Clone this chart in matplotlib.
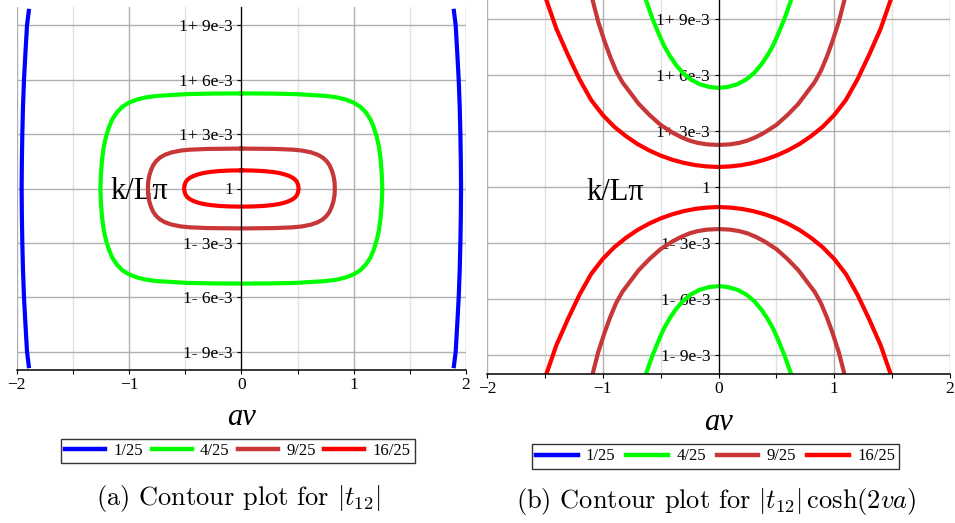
import matplotlib
matplotlib.use('Agg')
import matplotlib.pyplot as plt
from matplotlib.lines import Line2D
import numpy as np

plt.rcParams['font.family'] = ['Liberation Serif', 'DejaVu Serif']
plt.rcParams['mathtext.fontset'] = 'cm'
plt.rcParams['axes.unicode_minus'] = True

# ---------------- data ----------------
levels = ['1/25', '4/25', '9/25', '16/25']
colors = ['#0000FF', '#00FF00', '#C83737', '#FF0000']

xticks = [-2, -1, 0, 1, 2]
xtick_labels = ['\u22122', '\u22121', '0', '1', '2']
xminor = [-1.5, -0.5, 0.5, 1.5]
ytick_offsets = [-9, -6, -3, 0, 3, 6, 9]          # in units of 1e-3
ytick_labels = ['1- 9e-3', '1- 6e-3', '1- 3e-3', '1', '1+ 3e-3', '1+ 6e-3', '1+ 9e-3']

# Panel (a): one quadrant of each closed contour (x >= 0, offset >= 0), offsets in 1e-3
a_red_x = [0.0, 0.10, 0.20, 0.28, 0.34, 0.39, 0.43, 0.46, 0.48, 0.495, 0.505, 0.51]
a_red_dy = [1.0, 0.99, 0.96, 0.91, 0.85, 0.77, 0.68, 0.58, 0.48, 0.36, 0.20, 0.0]
a_brown_x = [0.0, 0.30, 0.457, 0.54, 0.62, 0.68, 0.725, 0.76, 0.785, 0.805, 0.82, 0.83, 0.832]
a_brown_dy = [2.2, 2.18, 2.14, 2.09, 1.99, 1.86, 1.70, 1.50, 1.28, 1.0, 0.70, 0.35, 0.0]
a_green_x = [0.0, 0.25, 0.486, 0.753, 0.85, 0.93, 1.0, 1.06, 1.11, 1.15, 1.18, 1.205,
             1.225, 1.24, 1.25, 1.255]
a_green_dy = [5.24, 5.23, 5.2, 5.1, 5.02, 4.9, 4.73, 4.5, 4.18, 3.8, 3.35, 2.85,
              2.3, 1.6, 0.8, 0.0]
# blue contour: right branch, x as function of offset
a_blue_dy = [-9.9, -9.0, -7.5, -6.0, -4.5, -3.0, -1.5, 0.0, 1.5, 3.0, 4.5, 6.0, 7.5, 9.0, 9.9]
a_blue_x = [1.890, 1.908, 1.922, 1.935, 1.944, 1.950, 1.954, 1.956, 1.954, 1.950, 1.944,
            1.935, 1.922, 1.908, 1.890]

# Panel (b): half branches (x >= 0) of each contour, offsets in 1e-3 (mirrored above/below 1)
b_red_x = [0.0, 0.1, 0.2, 0.3, 0.4, 0.5, 0.6, 0.7, 0.8, 0.9, 1.0, 1.1, 1.2, 1.3, 1.4, 1.49]
b_red_dy = [1.07, 1.10, 1.17, 1.29, 1.46, 1.68, 1.96, 2.30, 2.72, 3.22, 3.85, 4.65,
            5.75, 7.05, 8.45, 10.05]
b_brown_x = [0.0, 0.1, 0.18, 0.25, 0.32, 0.395, 0.5, 0.596, 0.69, 0.769, 0.83, 0.884,
             0.935, 0.985, 1.04, 1.09]
b_brown_dy = [2.25, 2.28, 2.36, 2.48, 2.66, 2.90, 3.32, 3.85, 4.45, 5.1, 5.6, 6.2,
              6.95, 7.8, 8.85, 10.05]
b_green_x = [0.0, 0.08, 0.164, 0.24, 0.308, 0.37, 0.424, 0.47, 0.51, 0.57, 0.63]
b_green_dy = [5.3, 5.35, 5.5, 5.75, 6.1, 6.55, 7.05, 7.55, 8.1, 9.0, 10.05]


def closed(qx, qdy):
    qx = np.asarray(qx); qdy = np.asarray(qdy)
    x = np.concatenate([qx, qx[::-1], -qx, -qx[::-1]])
    dy = np.concatenate([qdy, -qdy[::-1], -qdy, qdy[::-1]])
    return x, 1 + dy * 1e-3


def branch(hx, hdy):
    hx = np.asarray(hx); hdy = np.asarray(hdy)
    x = np.concatenate([-hx[::-1], hx[1:]])
    dy = np.concatenate([hdy[::-1], hdy[1:]])
    return x, dy


W, H = 955, 523
fig = plt.figure(figsize=(W / 100, H / 100), dpi=100)

axA = fig.add_axes([16.7 / W, 1 - 370 / H, 449.3 / W, 363 / H])
axB = fig.add_axes([487 / W, 1 - 374 / H, 463 / W, 374 / H])


def setup(ax):
    ax.set_xlim(-2, 2)
    ax.set_ylim(0.99, 1.01)
    ax.spines['top'].set_visible(False)
    ax.spines['right'].set_visible(False)
    ax.spines['left'].set_position(('data', 0))
    ax.spines['left'].set_linewidth(0.9)
    ax.spines['bottom'].set_linewidth(1.1)
    ax.set_xticks(xticks, xtick_labels)
    ax.set_xticks(xminor, minor=True)
    ax.set_yticks([1 + v * 1e-3 for v in ytick_offsets], ytick_labels)
    ax.tick_params(axis='x', which='both', direction='out', length=3, width=0.8,
                   labelsize=12.5, pad=2)
    ax.tick_params(axis='y', direction='out', length=3, width=0.8, labelsize=12.5, pad=3)
    ax.grid(True, which='major', color='#B0B0B0', lw=1.0)
    ax.grid(True, which='minor', axis='x', color='#E2E2E2', lw=1.0)
    ax.set_axisbelow(True)
    ax.set_facecolor('white')


setup(axA)
setup(axB)

lw = 3.0
# panel (a)
bx = np.asarray(a_blue_x); by = 1 + np.asarray(a_blue_dy) * 1e-3
axA.plot(bx, by, color=colors[0], lw=lw, solid_capstyle='butt', solid_joinstyle='round')
axA.plot(-bx, by, color=colors[0], lw=lw, solid_capstyle='butt', solid_joinstyle='round')
for qx, qdy, c in [(a_green_x, a_green_dy, colors[1]),
                   (a_brown_x, a_brown_dy, colors[2]),
                   (a_red_x, a_red_dy, colors[3])]:
    x, y = closed(qx, qdy)
    axA.plot(x, y, color=c, lw=lw, solid_joinstyle='round')

# panel (b)
for hx, hdy, c in [(b_green_x, b_green_dy, colors[1]),
                   (b_brown_x, b_brown_dy, colors[2]),
                   (b_red_x, b_red_dy, colors[3])]:
    x, dy = branch(hx, hdy)
    axB.plot(x, 1 + dy * 1e-3, color=c, lw=lw, solid_capstyle='butt', solid_joinstyle='round')
    axB.plot(x, 1 - dy * 1e-3, color=c, lw=lw, solid_capstyle='butt', solid_joinstyle='round')

# axis labels
for ax, lx, ly, xb in [(axA, 0.337, 0.471, -0.1515), (axB, 0.339, 0.465, -0.1497)]:
    ax.set_ylabel('k/L\u03c0', rotation=0, fontsize=22, ha='right', va='baseline')
    ax.yaxis.set_label_coords(lx, ly)
    ax.set_xlabel('av', fontsize=22, style='italic', va='baseline')
    ax.xaxis.set_label_coords(0.5, xb)

# legends
handles = [Line2D([], [], color=c, lw=3.2) for c in colors]
for cx, cy, cs, hl in [(238 / W, 1 - 451 / H, 0.5, 2.4), (715.5 / W, 1 - 456.5 / H, 0.65, 2.5)]:
    leg = fig.legend(handles, levels, loc='center', bbox_to_anchor=(cx, cy), ncol=4,
                     fontsize=12, frameon=True, fancybox=False, edgecolor='black',
                     handlelength=hl, handletextpad=0.5, columnspacing=cs,
                     borderpad=0.25, borderaxespad=0)
    leg.get_frame().set_linewidth(1.0)

# captions
fig.text(238 / W, 1 - 505 / H, r'(a) Contour plot for $|t_{12}|$', ha='center',
         va='baseline', fontsize=19, family='cmr10')
fig.text(716 / W, 1 - 508 / H, r'(b) Contour plot for $|t_{12}|\,\cosh(2va)$', ha='center',
         va='baseline', fontsize=19, family='cmr10')

fig.savefig('out.png', dpi=100, facecolor='white')
